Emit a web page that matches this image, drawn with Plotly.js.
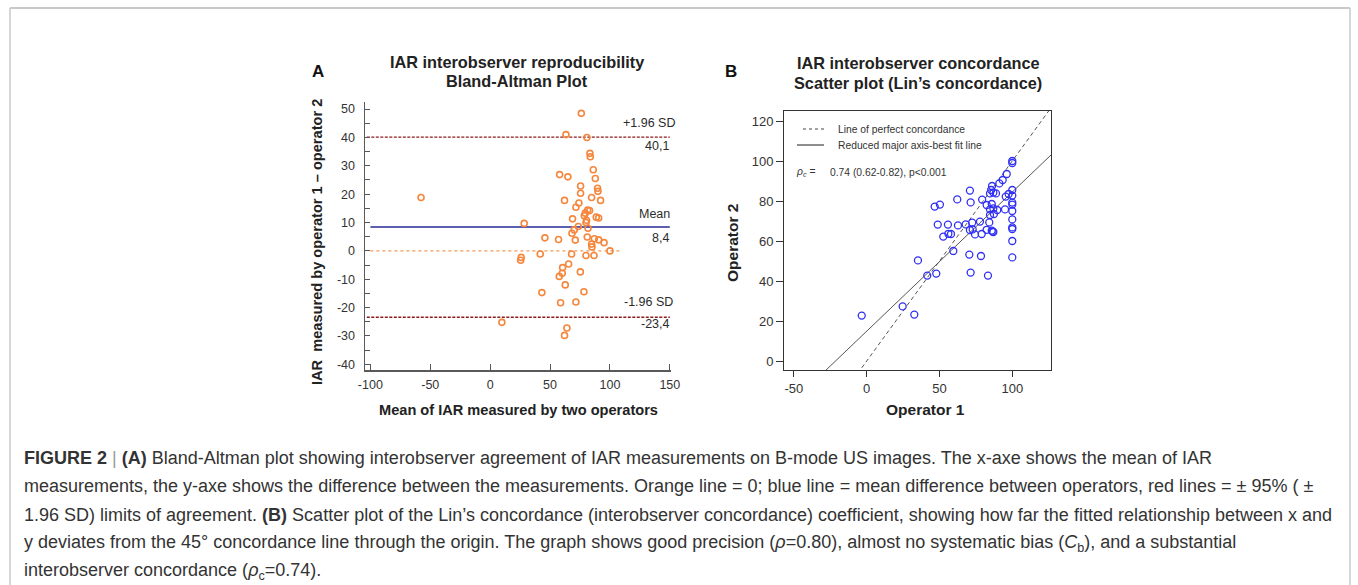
<!DOCTYPE html>
<html>
<head>
<meta charset="utf-8">
<script src="https://cdn.plot.ly/plotly-3.0.1.min.js"></script>
<style>html,body{margin:0;padding:0;background:#fff;}#chart{width:1358px;height:585px;}</style>
</head>
<body>
<div id="chart"></div>
<script>
// ---------- Panel A: Bland-Altman data (mean of two operators, difference op1 - op2) ----------
const baMean = [-57.7,9.8,25.9,25.5,28.4,41.8,43.2,45.7,57.1,57.7,58.0,58.8,60.2,60.5,62.1,62.1,62.7,63.3,64.1,64.9,65.5,68.0,68.3,68.8,70.2,71.1,71.6,71.6,73.6,74.1,75.3,75.5,75.5,76.1,78.3,78.6,79.4,80.0,80.0,80.5,80.8,81.1,81.4,81.7,83.0,83.3,83.6,84.7,84.7,85.0,86.1,86.7,87.0,87.8,88.6,89.7,90.0,90.6,90.6,92.2,95.1,100.0];
const baDiff = [18.8,-25.2,-2.3,-3.3,9.7,-1.1,-14.7,4.6,4.0,-9.0,26.9,-18.3,-7.9,-5.9,17.8,-29.8,-12.0,41.0,-27.2,26.1,-4.6,-1.1,6.2,11.3,7.4,3.8,15.4,-18.0,8.6,16.9,-7.4,22.9,20.3,48.5,-14.4,12.4,13.3,10.0,-1.6,10.8,40.0,4.9,14.4,8.0,14.2,34.4,33.2,18.8,2.4,1.4,28.6,-1.6,4.3,25.5,11.9,22.1,21.0,11.6,3.9,17.8,2.9,0.0];
const meanDiff = 8.4;
const upperLoA = 40.1;
const lowerLoA = -23.4;
const zeroLine = 0;
const refLineX = [-103, 150];
const meanLineX = [-100, 150];
const zeroLineX = [-100, 109];
const baXTicks = [-100, -50, 0, 50, 100, 150];
const baYTicks = [-40, -30, -20, -10, 0, 10, 20, 30, 40, 50];

// ---------- Panel B: Lin's concordance data ----------
const op1 = [100,100,96.2,93.4,91.1,86.1,70.9,46.7,50.3,62.2,71.4,79.3,84.7,87.0,88.8,85.5,82.4,85.9,95.5,97.5,100,100,100,100,100,100,100,100,100,100,84.7,87.0,89.7,95.0,84.7,87.4,48.8,55.8,62.7,68.0,72.5,77.8,84.2,82.4,86.5,87.0,52.6,56.1,57.9,70.9,72.8,74.4,79.0,85.9,59.5,70.5,78.5,35.2,41.6,47.8,71.4,83.3,24.7,32.7,-3.4];
const op2 = [100,99,93.5,90.5,88.8,87.5,85.2,77.2,78.2,80.8,79.3,80.7,83.8,84.2,83.8,85.5,78.0,78.5,82.2,83.5,82.7,85.5,79.2,78.2,75.0,70.8,66.8,66.0,60.0,51.8,75.8,76.3,75.5,75.8,73.0,73.5,68.2,68.2,67.8,68.3,69.2,69.7,69.3,65.6,64.7,64.5,62.2,63.6,63.5,65.5,65.8,63.3,63.5,65.2,55.0,53.2,52.5,50.3,42.7,43.7,44.2,42.7,27.3,23.2,22.7];
const perfectX = [-3.4, 126.6];
const perfectY = [-3.4, 126.6];
const rmaX = [-28.6, 126.6];
const rmaY = [-5.0, 103.0];
const ccText = "0.74 (0.62-0.82), p&lt;0.001";
const ccXTicks = [-50, 0, 50, 100];
const ccYTicks = [0, 20, 40, 60, 80, 100, 120];

// ---------- helpers (pixel -> paper) ----------
const W = 1358, H = 585;
const px = v => v / W;
const py = v => 1 - v / H;

const ORANGE = '#f5863c';
const BLUE_PT = '#2f2ff5';
const AX = '#595959';
const TXT = '#2b2b2b';
const FONT = 'Liberation Sans, Arial, sans-serif';

const traces = [
  // Panel A reference lines
  {x: refLineX, y: [upperLoA, upperLoA], xaxis: 'x', yaxis: 'y', mode: 'lines', line: {color: '#8b1c1c', width: 1.4, dash: '3px,1.5px'}, hoverinfo: 'skip'},
  {x: refLineX, y: [lowerLoA, lowerLoA], xaxis: 'x', yaxis: 'y', mode: 'lines', line: {color: '#8b1c1c', width: 1.4, dash: '3px,1.5px'}, hoverinfo: 'skip'},
  {x: meanLineX, y: [meanDiff, meanDiff], xaxis: 'x', yaxis: 'y', mode: 'lines', line: {color: '#5c5fb0', width: 2}, hoverinfo: 'skip'},
  {x: zeroLineX, y: [zeroLine, zeroLine], xaxis: 'x', yaxis: 'y', mode: 'lines', line: {color: '#f59a55', width: 1.1, dash: 'dot'}, hoverinfo: 'skip'},
  // Panel A points
  {x: baMean, y: baDiff, xaxis: 'x', yaxis: 'y', mode: 'markers', type: 'scatter',
   marker: {symbol: 'circle-open', size: 6, color: ORANGE, line: {width: 1.6, color: ORANGE}}},
  // Panel B lines
  {x: perfectX, y: perfectY, xaxis: 'x2', yaxis: 'y2', mode: 'lines', line: {color: '#555', width: 1, dash: '4px,3px'}, hoverinfo: 'skip'},
  {x: rmaX, y: rmaY, xaxis: 'x2', yaxis: 'y2', mode: 'lines', line: {color: '#555', width: 1}, hoverinfo: 'skip'},
  // Panel B points
  {x: op1, y: op2, xaxis: 'x2', yaxis: 'y2', mode: 'markers', type: 'scatter',
   marker: {symbol: 'circle-open', size: 7, color: BLUE_PT, line: {width: 1.3, color: BLUE_PT}}}
];

function ann(text, x, y, opts) {
  return Object.assign({text: text, x: px(x), y: py(y), xref: 'paper', yref: 'paper', showarrow: false,
    xanchor: 'left', yanchor: 'middle', font: {family: FONT, size: 12.5, color: TXT}}, opts || {});
}

const capFont = {family: FONT, size: 18, color: '#333'};
const titleFont = {family: FONT, size: 16.3, color: '#222'};
const axTitleFont = {family: FONT, size: 14.6, color: '#222'};
const legFont = {family: FONT, size: 10.3, color: '#333'};
const annotations = [
  // panel A titles
  ann('<b>A</b>', 318, 71, {xanchor: 'center', font: {family: FONT, size: 17, color: '#111'}}),
  ann('<b>IAR interobserver reproducibility</b>', 517, 62, {xanchor: 'center', font: titleFont}),
  ann('<b>Bland-Altman Plot</b>', 517, 81, {xanchor: 'center', font: titleFont}),
  ann('<b>Mean of IAR measured by two operators</b>', 518, 410, {xanchor: 'center', font: axTitleFont}),
  ann('<b>IAR  measured by operator 1 – operator 2</b>', 317, 242, {xanchor: 'center', textangle: -90, font: axTitleFont}),
  // panel A line labels
  ann('+1.96 SD', 677, 123, {xanchor: 'right'}),
  ann('40,1', 671, 146, {xanchor: 'right'}),
  ann('Mean', 672, 214, {xanchor: 'right'}),
  ann('8,4', 671, 238, {xanchor: 'right'}),
  ann('-1.96 SD', 675, 302, {xanchor: 'right'}),
  ann('-23,4', 672, 324, {xanchor: 'right'}),
  // panel B titles
  ann('<b>B</b>', 731, 71, {xanchor: 'center', font: {family: FONT, size: 17, color: '#111'}}),
  ann('<b>IAR interobserver concordance</b>', 918, 63, {xanchor: 'center', font: titleFont}),
  ann('<b>Scatter plot (Lin’s concordance)</b>', 918, 83, {xanchor: 'center', font: titleFont}),
  ann('<b>Operator 1</b>', 925, 409, {xanchor: 'center', font: {family: FONT, size: 15.5, color: '#222'}}),
  ann('<b>Operator 2</b>', 732, 243, {xanchor: 'center', textangle: -90, font: {family: FONT, size: 15.5, color: '#222'}}),
  // panel B legend text
  ann('Line of perfect concordance', 836, 129, {font: legFont}),
  ann('Reduced major axis-best fit line', 836, 145, {font: legFont}),
  ann('<i>ρ<sub>c</sub></i> =', 794, 172, {font: legFont}),
  ann(ccText, 828, 172, {font: legFont}),
  // caption
  ann('<b>FIGURE 2</b> <span style="color:#999">|</span> <b>(A)</b> Bland-Altman plot showing interobserver agreement of IAR measurements on B-mode US images. The x-axe shows the mean of IAR', 22, 458, {font: capFont}),
  ann('measurements, the y-axe shows the difference between the measurements. Orange line = 0; blue line = mean difference between operators, red lines = ± 95% ( ±', 22, 486, {font: capFont}),
  ann('1.96 SD) limits of agreement. <b>(B)</b> Scatter plot of the Lin’s concordance (interobserver concordance) coefficient, showing how far the fitted relationship between x and', 22, 515, {font: capFont}),
  ann('y deviates from the 45° concordance line through the origin. The graph shows good precision (<i>ρ</i>=0.80), almost no systematic bias (<i>C</i><sub>b</sub>), and a substantial', 22, 543, {font: capFont}),
  ann('interobserver concordance (<i>ρ</i><sub>c</sub>=0.74).', 22, 571, {font: capFont})
];

const shapes = [
  // outer frame
  {type: 'line', xref: 'paper', yref: 'paper', x0: px(10), x1: px(1350), y0: py(8), y1: py(8), line: {color: '#c9c9c9', width: 2}},
  {type: 'line', xref: 'paper', yref: 'paper', x0: px(10), x1: px(10), y0: py(8), y1: py(600), line: {color: '#c9c9c9', width: 1.5}},
  {type: 'line', xref: 'paper', yref: 'paper', x0: px(1350), x1: px(1350), y0: py(8), y1: py(600), line: {color: '#c9c9c9', width: 1.5}},
  // panel B legend samples
  {type: 'line', xref: 'paper', yref: 'paper', x0: px(803), x1: px(824), y0: py(129), y1: py(129), line: {color: '#444', width: 1, dash: '3px,3px'}},
  {type: 'line', xref: 'paper', yref: 'paper', x0: px(797), x1: px(824), y0: py(145), y1: py(145), line: {color: '#444', width: 1.2}}
];

const tickFont = {family: FONT, size: 12.5, color: '#333'};
const layout = {
  width: W, height: H,
  margin: {l: 0, r: 0, t: 0, b: 0},
  paper_bgcolor: '#fff', plot_bgcolor: 'rgba(0,0,0,0)',
  showlegend: false,
  xaxis: {domain: [px(365), px(671)], range: [-104.5, 151], anchor: 'y', tickvals: baXTicks, ticktext: baXTicks.map(String),
    showgrid: false, zeroline: false, showline: true, linecolor: AX, linewidth: 1.5, ticks: 'inside', ticklen: 6, tickcolor: AX, tickwidth: 1,
    tickfont: tickFont, ticklabelstandoff: 2},
  yaxis: {domain: [py(370), py(102)], range: [-42, 52.5], anchor: 'x', tickvals: baYTicks, ticktext: baYTicks.map(String),
    showgrid: false, zeroline: false, showline: true, linecolor: AX, linewidth: 1.5, ticks: 'inside', ticklen: 5, tickcolor: AX, tickwidth: 1,
    minor: {dtick: 5, tick0: 0, ticks: 'inside', ticklen: 5, tickcolor: AX, showgrid: false},
    tickfont: tickFont, ticklabelstandoff: 6},
  xaxis2: {domain: [px(784.3), px(1051)], range: [-56.6, 126.6], anchor: 'y2', tickvals: ccXTicks, ticktext: ccXTicks.map(String),
    showgrid: false, zeroline: false, showline: true, mirror: true, linecolor: '#333', linewidth: 1.3, ticks: 'outside', ticklen: 6, tickcolor: '#333', tickwidth: 1,
    tickfont: {family: FONT, size: 13, color: '#333'}},
  yaxis2: {domain: [py(370), py(111)], range: [-4.5, 125], anchor: 'x2', tickvals: ccYTicks, ticktext: ccYTicks.map(String),
    showgrid: false, zeroline: false, showline: true, mirror: true, linecolor: '#333', linewidth: 1.3, ticks: 'outside', ticklen: 7, tickcolor: '#333', tickwidth: 1,
    tickfont: {family: FONT, size: 13, color: '#333'}},
  annotations: annotations,
  shapes: shapes
};

Plotly.newPlot('chart', traces, layout, {displayModeBar: false, staticPlot: true});
</script>
</body>
</html>
